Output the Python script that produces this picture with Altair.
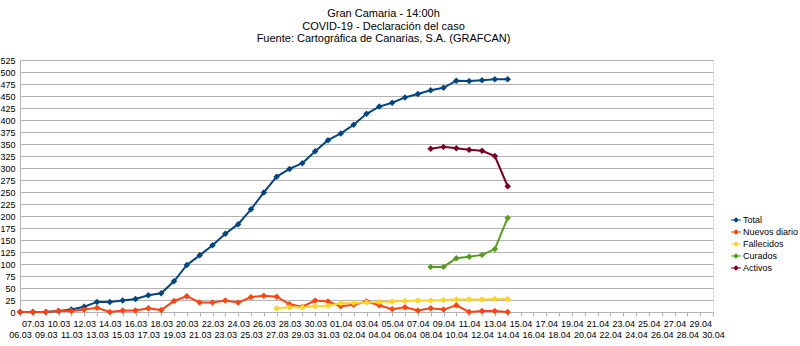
import json
import altair as alt
import pandas as pd

categories = [
    "06.03", "07.03", "09.03", "10.03", "11.03", "12.03", "13.03", "14.03", "15.03",
    "16.03", "17.03", "18.03", "19.03", "20.03", "21.03", "22.03", "23.03", "24.03",
    "25.03", "26.03", "27.03", "28.03", "29.03", "30.03", "31.03",
    "01.04", "02.04", "03.04", "04.04", "05.04", "06.04", "07.04", "08.04", "09.04",
    "10.04", "11.04", "12.04", "13.04", "14.04", "15.04", "16.04", "17.04", "18.04",
    "19.04", "20.04", "21.04", "22.04", "23.04", "24.04", "25.04", "26.04", "27.04",
    "28.04", "29.04", "30.04",
]

total = [0, 0, 0, 2, 5, 11, 21, 21, 24, 27, 35, 39, 64, 98, 118, 139, 163, 183, 214,
         249, 282, 298, 310, 335, 358, 372, 390, 413, 428, 436, 447, 454, 462, 467,
         482, 481, 483, 485, 485]
nuevos = [0, 0, 0, 2, 2, 5, 9, 0, 3, 3, 8, 4, 23, 33, 20, 20, 24, 20, 31, 34, 32, 16,
          11, 24, 22, 12, 15, 22, 14, 6, 10, 3, 8, 5, 14, 0, 2, 2, 0]
fallecidos = [8, 10, 10, 12, 13, 18, 19, 20, 21, 22, 23, 24, 24, 25, 26, 26, 26, 27, 27]
fallecidos_start = "27.03"
curados = [94, 94, 112, 115, 119, 131, 196]
curados_start = "08.04"
activos = [340, 344, 341, 338, 336, 325, 262]
activos_start = "08.04"

series_names = ["Total", "Nuevos diario", "Fallecidos", "Curados", "Activos"]
series_colors = ["#004586", "#ff420e", "#ffd320", "#579d1c", "#7e0021"]
y_ticks = list(range(0, 526, 25))
title_lines = [
    "Gran Camaria - 14:00h",
    "COVID-19 - Declaración del caso",
    "Fuente: Cartográfica de Canarias, S.A. (GRAFCAN)",
]

rows = []
for name, start, vals in [
    ("Total", "06.03", total),
    ("Nuevos diario", "06.03", nuevos),
    ("Fallecidos", fallecidos_start, fallecidos),
    ("Curados", curados_start, curados),
    ("Activos", activos_start, activos),
]:
    s = categories.index(start)
    for i, v in enumerate(vals):
        rows.append({"fecha": categories[s + i], "serie": name, "valor": v, "orden": s + i})
df = pd.DataFrame(rows)

even_labels = categories[0::2]
label_expr = (
    "indexof(" + json.dumps(even_labels) + ", datum.value) >= 0 ? ['', datum.label] : datum.label"
)

FONT = "Liberation Sans"

chart = (
    alt.Chart(df)
    .mark_line(
        strokeWidth=2,
        point=alt.OverlayMarkDef(shape="diamond", size=42, filled=True),
    )
    .encode(
        x=alt.X(
            "fecha:O",
            sort=categories,
            scale=alt.Scale(domain=categories, type="point", padding=0),
            axis=alt.Axis(
                title=None,
                labelExpr=label_expr,
                labelAngle=0,
                labelFont=FONT,
                labelFontSize=9,
                labelLineHeight=11.5,
                labelOverlap=False,
                labelBound=False,
                labelPadding=3,
                labelBaseline="top",
                labelColor="#000000",
                tickSize=4,
                tickColor="#b3b3b3",
                domainColor="#b3b3b3",
                grid=False,
            ),
        ),
        y=alt.Y(
            "valor:Q",
            scale=alt.Scale(domain=[0, 525], nice=False, zero=True),
            axis=alt.Axis(
                title=None,
                values=y_ticks,
                labelFont=FONT,
                labelFontSize=9,
                labelColor="#000000",
                labelPadding=5,
                ticks=False,
                gridColor="#b3b3b3",
                domainColor="#b3b3b3",
            ),
        ),
        color=alt.Color(
            "serie:N",
            sort=series_names,
            scale=alt.Scale(domain=series_names, range=series_colors),
            legend=alt.Legend(
                title=None,
                orient="none",
                legendX=710,
                legendY=154,
                symbolType="M-1,0H1M0,-0.4L0.4,0L0,0.4L-0.4,0Z",
                symbolSize=100,
                symbolStrokeWidth=1.2,
                labelFont=FONT,
                labelFontSize=9,
                labelColor="#000000",
                labelOffset=1,
                rowPadding=1,
                padding=0,
            ),
        ),
        order="orden:Q",
    )
    .properties(
        width=693,
        height=252,
        padding={"left": 20, "top": 60, "right": 87, "bottom": 34},
        autosize=alt.AutoSizeParams(type="none"),
        title=alt.TitleParams(
            title_lines,
            font=FONT,
            fontSize=11,
            fontWeight="normal",
            color="#000000",
            lineHeight=12.5,
            anchor="middle",
            dx=17,
            offset=12,
        ),
    )
    .configure_view(stroke="#b3b3b3")
    .configure(background="white")
)

chart.save("out.html", embed_options={"renderer": "svg", "actions": False})
